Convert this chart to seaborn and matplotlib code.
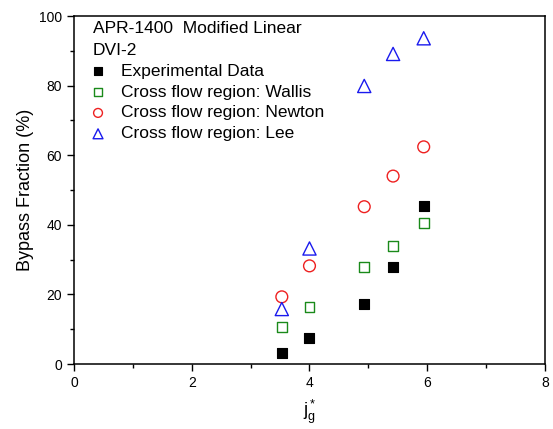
import matplotlib
matplotlib.use("Agg")
import matplotlib.pyplot as plt
import seaborn as sns
from matplotlib.ticker import MultipleLocator

jg = [3.53, 4.0, 4.93, 5.42, 5.94]
experimental = [3.2, 7.5, 17.2, 27.9, 45.4]
wallis = [10.6, 16.4, 27.9, 33.9, 40.5]
newton = [19.3, 28.2, 45.2, 54.0, 62.4]
lee = [15.8, 33.2, 79.9, 89.1, 93.6]

labels = ["Experimental Data", "Cross flow region: Wallis",
          "Cross flow region: Newton", "Cross flow region: Lee"]

sns.set_theme(style="ticks")
plt.rcParams['font.family'] = ['Liberation Sans', 'DejaVu Sans']
plt.rcParams['mathtext.fontset'] = 'custom'
plt.rcParams['mathtext.rm'] = 'Liberation Sans'
plt.rcParams['mathtext.it'] = 'Liberation Sans'
for k in ['text.color', 'axes.labelcolor', 'xtick.color', 'ytick.color', 'axes.edgecolor']:
    plt.rcParams[k] = 'black'

fig = plt.figure(figsize=(5.53, 4.29), dpi=100)
ax = fig.add_axes([0.1338, 0.1515, 0.8517, 0.8112])

sns.scatterplot(x=jg, y=experimental, ax=ax, marker="s", s=50, color="black",
                edgecolor="black", linewidth=0.8, label=labels[0])
sns.scatterplot(x=jg, y=wallis, ax=ax, marker="s", s=50, facecolor="none",
                edgecolor="#1a8a1a", linewidth=1.0, label=labels[1])
sns.scatterplot(x=jg, y=newton, ax=ax, marker="o", s=72, facecolor="none",
                edgecolor="#ee2020", linewidth=1.0, label=labels[2])
sns.scatterplot(x=jg, y=lee, ax=ax, marker="^", s=90, facecolor="none",
                edgecolor="#1a1aee", linewidth=1.0, label=labels[3])

ax.set_xlim(0, 8)
ax.set_ylim(0, 100)
ax.xaxis.set_major_locator(MultipleLocator(2))
ax.xaxis.set_minor_locator(MultipleLocator(1))
ax.yaxis.set_major_locator(MultipleLocator(20))
ax.yaxis.set_minor_locator(MultipleLocator(10))
ax.tick_params(which='major', direction='out', length=5, width=1, labelsize=10, colors='black')
ax.tick_params(which='minor', direction='out', length=3, width=1)
for sp in ax.spines.values():
    sp.set_linewidth(1.1)
    sp.set_color('black')

ax.set_xlabel(r'$\mathregular{j_g^*}$', fontsize=13, labelpad=6)
ax.set_ylabel('Bypass Fraction (%)', fontsize=13, labelpad=4)

leg = ax.legend(loc='upper left', frameon=False, fontsize=12.5,
                title="APR-1400  Modified Linear\nDVI-2", title_fontsize=12.5,
                alignment='left', borderaxespad=0, labelspacing=0.33,
                handletextpad=1.03, handlelength=0.58, borderpad=0,
                markerscale=0.75,
                bbox_to_anchor=(19/471, 0.985))
leg.get_title().set_linespacing(1.55)
for t in leg.get_texts():
    t.set_color('black')
leg.get_title().set_color('black')

fig.savefig("out.png", dpi=100)
